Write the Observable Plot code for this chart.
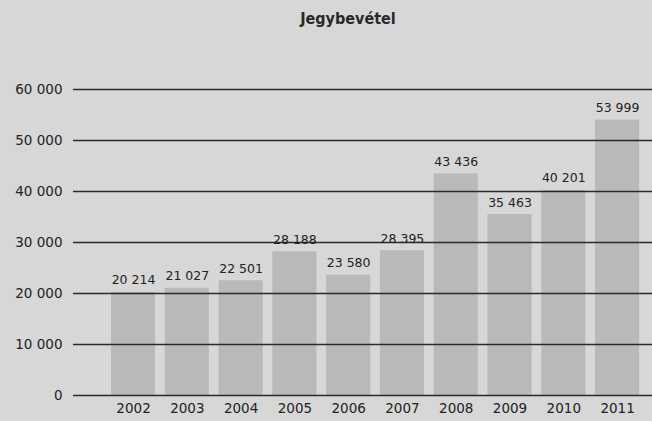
<!DOCTYPE html>
<html>
<head>
<meta charset="utf-8">
<script src="https://cdn.jsdelivr.net/npm/d3@7"></script>
<script src="https://cdn.jsdelivr.net/npm/@observablehq/plot@0.6"></script>
<style>
  html, body { margin: 0; padding: 0; background: #d7d7d7; }
  #title { height: 35px; line-height: 38px; text-align: center; padding-left: 44px; font-family: "DejaVu Sans Condensed", "DejaVu Sans", sans-serif; font-weight: bold; font-size: 16px; color: #2a2a2a; }
  svg { display: block; }
</style>
</head>
<body>
<div id="title">Jegybevétel</div>
<div id="chart"></div>
<script>
const years = ["2002","2003","2004","2005","2006","2007","2008","2009","2010","2011"];
const values = [20214, 21027, 22501, 28188, 23580, 28395, 43436, 35463, 40201, 53999];
const yTicks = [0, 10000, 20000, 30000, 40000, 50000, 60000];

const data = years.map((y, i) => ({year: y, value: values[i]}));
const fmt = d3.formatLocale({thousands: " ", grouping: [3], decimal: ","}).format(",d");

const chart = Plot.plot({
  width: 652,
  height: 386,
  marginTop: 54,
  marginBottom: 26,
  marginLeft: 73,
  marginRight: 0,
  style: {background: "#d7d7d7", fontFamily: "'DejaVu Sans', sans-serif", color: "#222"},
  x: {domain: years, range: [101.3, 648.8], padding: 0.18, round: false, label: null},
  y: {domain: [0, 60000], ticks: yTicks, tickFormat: fmt, label: null},
  marks: [
    Plot.barY(data, {x: "year", y: "value", fill: "#b9b9b9"}),
    Plot.ruleY(yTicks, {stroke: "#2a2a2a", strokeWidth: 1.5}),
    Plot.text(data, {x: "year", y: "value", text: d => fmt(d.value), lineAnchor: "bottom", dy: -8, fontSize: 12.5, fill: "#222"}),
    Plot.axisX({tickSize: 0, tickPadding: 8, fontSize: 13.5, label: null}),
    Plot.axisY({ticks: yTicks, tickFormat: fmt, tickSize: 0, tickPadding: 11, fontSize: 13.5, label: null})
  ]
});
document.getElementById("chart").appendChild(chart);
</script>
</body>
</html>
